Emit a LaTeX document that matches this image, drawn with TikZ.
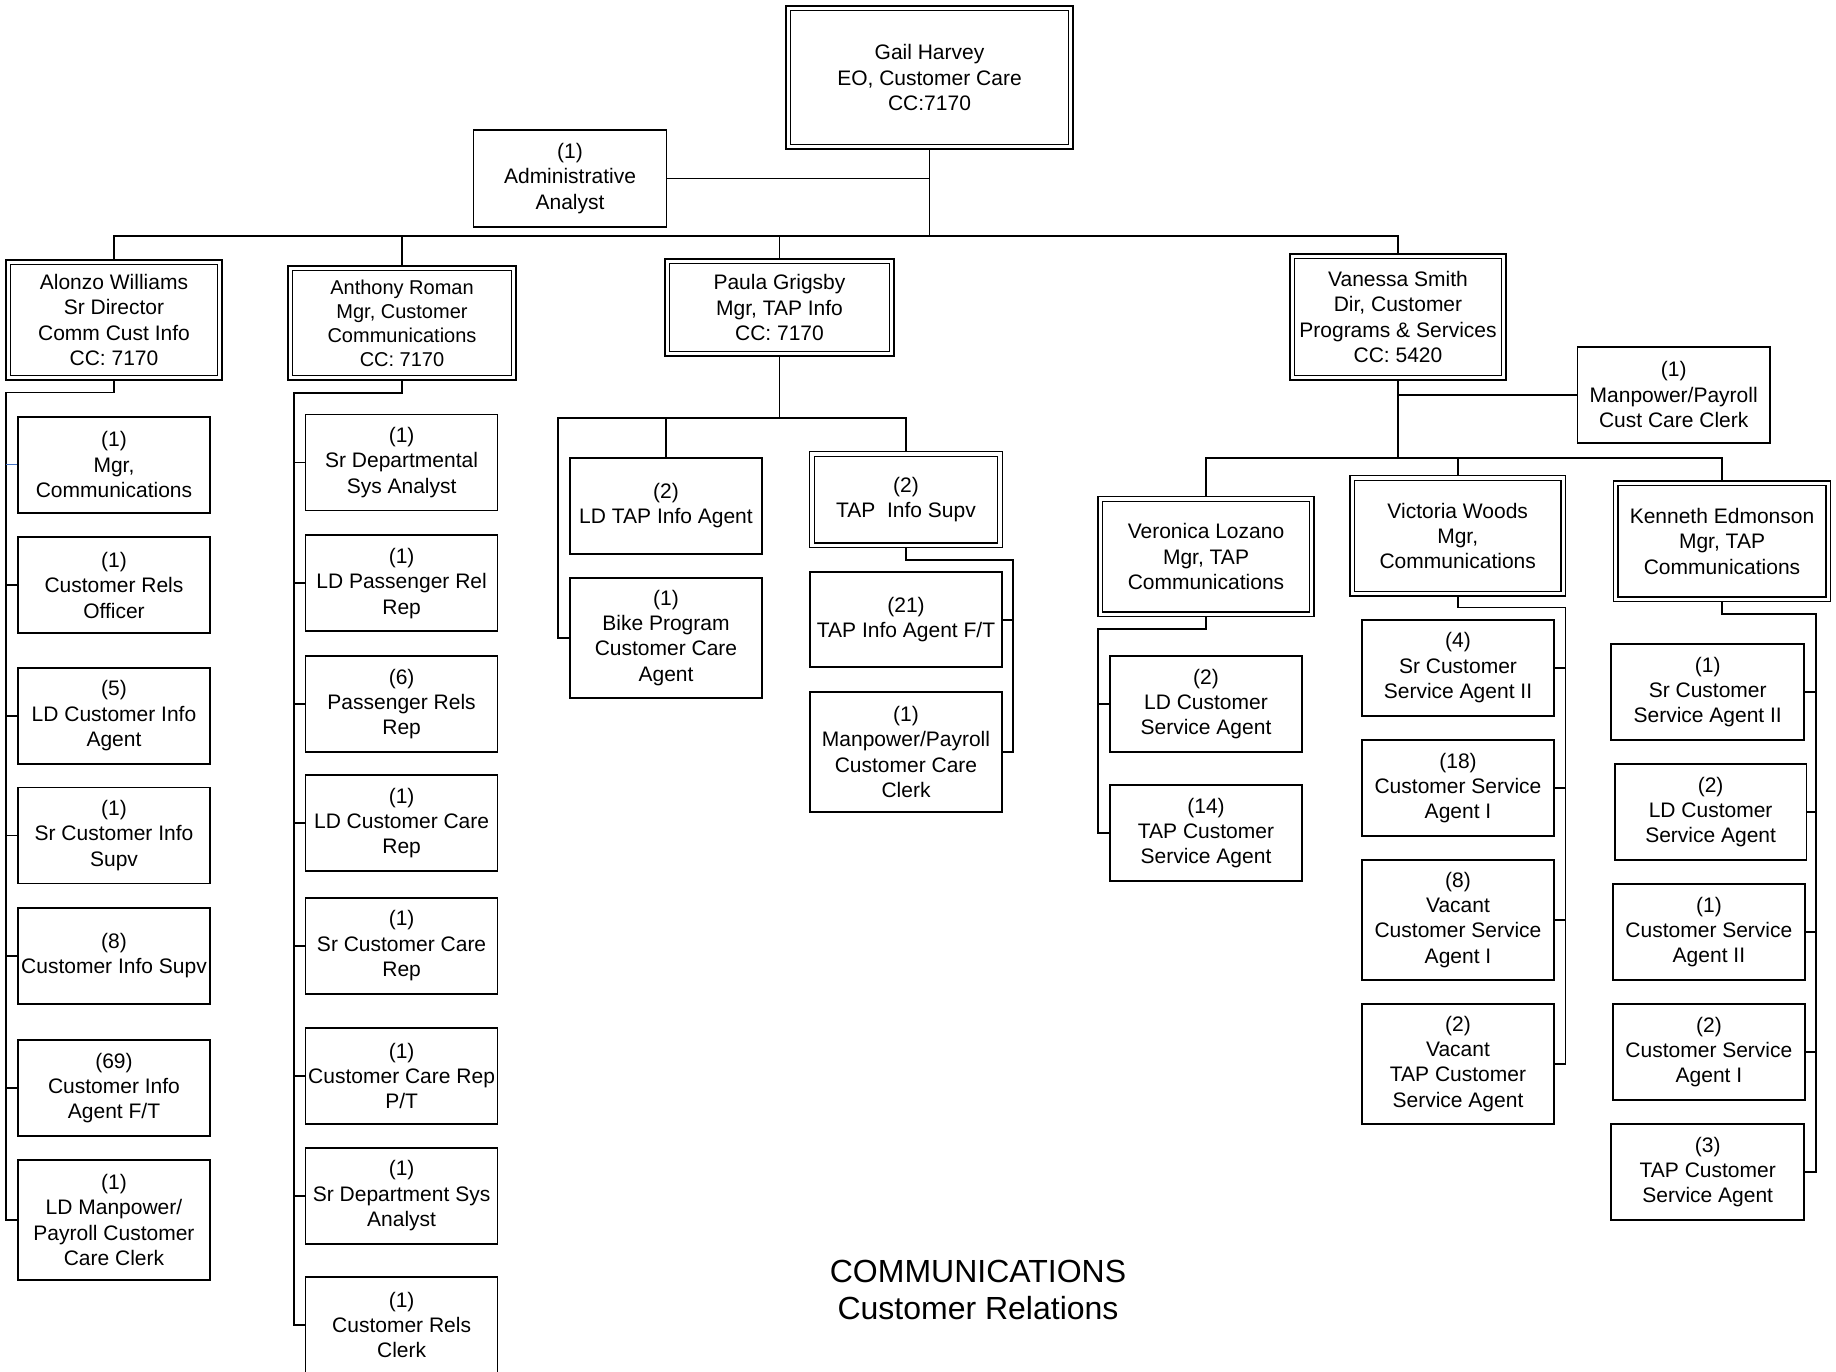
\documentclass[tikz,border=0pt]{standalone}
\usepackage{fontspec}
\setmainfont{Liberation Sans}
\usetikzlibrary{backgrounds}
\definecolor{tickblue}{RGB}{68,114,196}
\tikzset{
  box/.style={draw, line width=1.7pt, fill=white, inner sep=0pt, align=center,
    minimum width=192pt, minimum height=96pt, font=\fontsize{21}{25.3}\selectfont},
  dbox/.style={box, double, double distance=3.2pt, line width=1.5pt},
  link/.style={line width=1.8pt, line cap=rect},
}
\begin{document}
\begin{tikzpicture}[x=1pt,y=-1pt]
\useasboundingbox (0,0) rectangle (1836,1371);
\clip (0,0) rectangle (1836,1371);

% top level
\node[dbox, minimum width=282.3pt, minimum height=138.3pt] (gail) at (929.5,77.5) {Gail Harvey\\EO, Customer Care\\CC:7170};
\node[box, minimum width=193pt, minimum height=97pt] (admin) at (570,178.5) {(1)\\Administrative\\Analyst};

% second level
\node[dbox, minimum width=211.3pt, minimum height=115.3pt] (alonzo) at (114,320) {Alonzo Williams\\Sr Director\\Comm Cust Info\\CC: 7170};
\node[dbox, minimum width=223.3pt, minimum height=109.3pt, font=\fontsize{20}{24}\selectfont] (anthony) at (402,323) {Anthony Roman\\Mgr, Customer\\Communications\\CC: 7170};
\node[dbox, minimum width=224.3pt, minimum height=92.3pt] (paula) at (779.5,307.5) {Paula Grigsby\\Mgr, TAP Info\\CC: 7170};
\node[dbox, minimum width=211.3pt, minimum height=121.3pt] (vanessa) at (1398,317) {Vanessa Smith\\Dir, Customer\\Programs \& Services\\CC: 5420};
\node[box, minimum width=192.5pt] (mpc) at (1673.7,394.7) {(1)\\Manpower/Payroll\\Cust Care Clerk};

% Alonzo column
\node[box] (a1) at (114,464.7) {(1)\\Mgr,\\Communications};
\node[box] (a2) at (114,585.3) {(1)\\Customer Rels\\Officer};
\node[box] (a3) at (114,715.8) {(5)\\LD Customer Info\\Agent};
\node[box] (a4) at (114,835.5) {(1)\\Sr Customer Info\\Supv};
\node[box] (a5) at (114,955.8) {(8)\\Customer Info Supv};
\node[box] (a6) at (114,1088) {(69)\\Customer Info\\Agent F/T};
\node[box, minimum height=120pt] (a7) at (114,1220) {(1)\\LD Manpower/\\Payroll Customer\\Care Clerk};

% Anthony column
\node[box] (b1) at (401.6,462.5) {(1)\\Sr Departmental\\Sys Analyst};
\node[box] (b2) at (401.6,583.3) {(1)\\LD Passenger Rel\\Rep};
\node[box] (b3) at (401.6,704.2) {(6)\\Passenger Rels\\Rep};
\node[box] (b4) at (401.6,823) {(1)\\LD Customer Care\\Rep};
\node[box] (b5) at (401.6,945.8) {(1)\\Sr Customer Care\\Rep};
\node[box] (b6) at (401.6,1076) {(1)\\Customer Care Rep\\P/T};
\node[box] (b7) at (401.6,1195.8) {(1)\\Sr Department Sys\\Analyst};
\node[box] (b8) at (401.6,1325) {(1)\\Customer Rels\\Clerk};

% Paula subtree
\node[box] (p1) at (666,505.7) {(2)\\LD TAP Info Agent};
\node[box, minimum height=120pt] (p2) at (666,637.7) {(1)\\Bike Program\\Customer Care\\Agent};
\node[dbox, minimum width=187.9pt, minimum height=91.3pt] (p3) at (906,499.7) {(2)\\TAP\ \ Info Supv};
\node[box, minimum width=192.6pt, minimum height=95pt] (p4) at (906,619.8) {(21)\\TAP Info Agent F/T};
\node[box, minimum width=192.6pt, minimum height=119.4pt] (p5) at (906,752) {(1)\\Manpower/Payroll\\Customer Care\\Clerk};

% Vanessa subtree managers
\node[dbox, minimum width=211.3pt, minimum height=115.3pt] (veronica) at (1206,556.7) {Veronica Lozano\\Mgr, TAP\\Communications};
\node[dbox, minimum width=210.8pt, minimum height=115.6pt] (victoria) at (1457.7,535.8) {Victoria Woods\\Mgr,\\Communications};
\node[dbox, minimum width=212.3pt, minimum height=116pt] (kenneth) at (1722,541.3) {Kenneth Edmonson\\Mgr, TAP\\Communications};

% Veronica column
\node[box, minimum width=192.3pt] (v1) at (1206,704.1) {(2)\\LD Customer\\Service Agent};
\node[box, minimum width=192.3pt] (v2) at (1206,832.9) {(14)\\TAP Customer\\Service Agent};

% Victoria column
\node[box] (w1) at (1458,667.8) {(4)\\Sr Customer\\Service Agent II};
\node[box] (w2) at (1458,788) {(18)\\Customer Service\\Agent I};
\node[box, minimum height=120pt] (w3) at (1458,919.9) {(8)\\Vacant\\Customer Service\\Agent I};
\node[box, minimum height=120pt] (w4) at (1458,1063.7) {(2)\\Vacant\\TAP Customer\\Service Agent};

% Kenneth column
\node[box, minimum width=192.8pt] (k1) at (1707.7,691.9) {(1)\\Sr Customer\\Service Agent II};
\node[box, minimum width=191.8pt] (k2) at (1710.6,811.9) {(2)\\LD Customer\\Service Agent};
\node[box, minimum width=192.4pt] (k3) at (1708.9,931.9) {(1)\\Customer Service\\Agent II};
\node[box, minimum width=192.4pt] (k4) at (1708.9,1051.9) {(2)\\Customer Service\\Agent I};
\node[box, minimum width=192.8pt] (k5) at (1707.7,1171.9) {(3)\\TAP Customer\\Service Agent};

% title
\node[align=center, font=\fontsize{32}{37.5}\selectfont] (title) at (978,1290) {COMMUNICATIONS\\Customer Relations};

% junction coordinates
\coordinate (j0) at (929.5,235.7);
\coordinate (aL) at (6.1,392.4);
\coordinate (bL) at (294,392.7);
\coordinate (pL) at (558.3,418.3);
\coordinate (tR) at (1013.3,560);
\coordinate (vJ) at (1398,457.7);
\coordinate (vrL) at (1098.3,629);
\coordinate (wR) at (1565.5,607.5);
\coordinate (kR) at (1816.2,613.7);

\begin{scope}[on background layer]
  % top level
  \draw[link] (gail.south) -- (j0);
  \draw[link, line width=1.4pt] (admin.east) -- (admin.east -| gail.south);
  \draw[link] (alonzo.north) |- (j0) -| (vanessa.north);
  \draw[link] (anthony.north) -- (anthony.north |- j0);
  \draw[link] (paula.north) -- (paula.north |- j0);
  % Alonzo
  \draw[link] (alonzo.south) |- (aL) |- (a7.west);
  \draw[line width=1.2pt, tickblue] (a1.west) -- (a1.west -| aL);
  \foreach \n in {a2,a3,a4,a5,a6} \draw[link] (\n.west) -- (\n.west -| aL);
  % Anthony
  \draw[link] (anthony.south) |- (bL) |- (b8.west);
  \foreach \n in {b1,b2,b3,b4,b5,b6,b7} \draw[link] (\n.west) -- (\n.west -| bL);
  % Paula
  \draw[link] (paula.south) -- (paula.south |- pL);
  \draw[link] (p3.north) |- (pL) |- (p2.west);
  \draw[link] (p1.north) -- (p1.north |- pL);
  \draw[link] (p3.south) |- (tR) |- (p5.east);
  \draw[link] (p4.east) -- (p4.east -| tR);
  % Vanessa
  \draw[link] (vanessa.south) -- (vJ);
  \draw[link] (mpc.west) -- (mpc.west -| vJ);
  \draw[link] (veronica.north) |- (vJ) -| (kenneth.north);
  \draw[link] (victoria.north) -- (victoria.north |- vJ);
  % Veronica
  \draw[link] (veronica.south) |- (vrL) |- (v2.west);
  \draw[link] (v1.west) -- (v1.west -| vrL);
  % Victoria
  \draw[link] (victoria.south) |- (wR) |- (w4.east);
  \foreach \n in {w1,w2,w3} \draw[link] (\n.east) -- (\n.east -| wR);
  % Kenneth
  \draw[link] (kenneth.south) |- (kR) |- (k5.east);
  \foreach \n in {k1,k2,k3,k4} \draw[link] (\n.east) -- (\n.east -| kR);
\end{scope}
\end{tikzpicture}
\end{document}
